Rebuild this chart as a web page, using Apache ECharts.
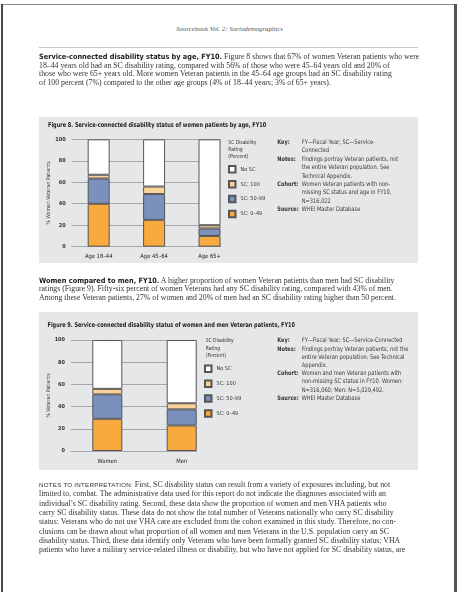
<!DOCTYPE html>
<html>
<head>
<meta charset="utf-8">
<script src="https://cdn.jsdelivr.net/npm/echarts@6/dist/echarts.min.js"></script>
<style>
  html, body { margin: 0; padding: 0; background: #ffffff; }
  #page { position: relative; width: 459px; height: 592px; overflow: hidden; background: #ffffff; }
  .abs { position: absolute; }
  #chart { position: absolute; left: 0; top: 0; width: 459px; height: 592px; z-index: 2; }
  .ln { position: absolute; left: 39px; white-space: nowrap; font-family: 'Liberation Serif', 'DejaVu Serif', serif;
        font-size: 7.8px; color: #333; line-height: 9px; height: 9px; z-index: 3; }
  .lead { font-family: 'Liberation Sans Narrow', 'DejaVu Sans Condensed', 'Liberation Sans', sans-serif; font-weight: bold; font-size: 7.3px; color: #222; }
  .caps { font-family: 'Liberation Sans', 'DejaVu Sans', sans-serif; font-size: 6.2px; letter-spacing: 0.25px; color: #333; }
</style>
</head>
<body>
<div id="page">
  <!-- page frame -->
  <div class="abs" style="left:1px;top:4px;width:456px;height:1.4px;background:#8a8a8a;"></div>
  <div class="abs" style="left:1px;top:4px;width:2px;height:600px;background:#4a4a4a;"></div>
  <div class="abs" style="left:454px;top:4px;width:2.6px;height:600px;background:#555;"></div>
  <!-- header -->
  <div class="abs" id="hdr" style="left:0;width:459px;top:24px;text-align:center;font-family:'Liberation Serif',serif;font-style:italic;font-size:6.8px;color:#555;line-height:9px;"></div>
  <div class="abs" style="left:39px;top:47px;width:379px;height:1.2px;background:#c8c8c8;"></div>
  <!-- figure panels -->
  <div class="abs" style="left:39px;top:117px;width:379px;height:146px;background:#e6e7e8;"></div>
  <div class="abs" style="left:39px;top:312px;width:379px;height:158px;background:#e6e7e8;"></div>
  <div id="chart"></div>
  <div id="text"></div>
</div>
<script>
// ---------------- data ----------------
const ageCategories = ['Age 18–44', 'Age 45–64', 'Age 65+'];
const ageSC0to49  = [40, 25, 10];
const ageSC50to99 = [23.5, 24, 7];
const ageSC100    = [3.5, 7, 3];
const ageNoSC     = [33, 44, 80];

const genderCategories = ['Women', 'Men'];
const genderSC0to49  = [29, 23];
const genderSC50to99 = [22, 14.5];
const genderSC100    = [5, 5.5];
const genderNoSC     = [44, 57];

const yTickValues = [0, 20, 40, 60, 80, 100];
const legendNames = ['No SC', 'SC: 100', 'SC: 50–99', 'SC: 0–49'];

const headerText = 'Sourcebook Vol. 2: Sociodemographics';
const fig8Title = 'Figure 8. Service-connected disability status of women patients by age, FY10';
const fig9Title = 'Figure 9. Service-connected disability status of women and men Veteran patients, FY10';
const legendTitle = 'SC Disability\nRating\n(Percent)';

const fig8Key = [
  ['Key:', ['FY—Fiscal Year; SC—Service-', 'Connected']],
  ['Notes:', ['Findings portray Veteran patients, not', 'the entire Veteran population. See', 'Technical Appendix.']],
  ['Cohort:', ['Women Veteran patients with non-', 'missing SC status and age in FY10,', 'N=316,022']],
  ['Source:', ['WHEI Master Database']]
];
const fig9Key = [
  ['Key:', ['FY—Fiscal Year; SC—Service-Connected']],
  ['Notes:', ['Findings portray Veteran patients, not the', 'entire Veteran population. See Technical', 'Appendix.']],
  ['Cohort:', ['Women and men Veteran patients with', 'non-missing SC status in FY10. Women:', 'N=316,060; Men: N=5,029,492.']],
  ['Source:', ['WHEI Master Database']]
];

const para1 = [
  ['Service-connected disability status by age, FY10.', ' Figure 8 shows that 67% of women Veteran patients who were'],
  ['', '18–44 years old had an SC disability rating, compared with 56% of those who were 45–64 years old and 20% of'],
  ['', 'those who were 65+ years old. More women Veteran patients in the 45–64 age groups had an SC disability rating'],
  ['', 'of 100 percent (7%) compared to the other age groups (4% of 18–44 years; 3% of 65+ years).']
];
const para2 = [
  ['Women compared to men, FY10.', ' A higher proportion of women Veteran patients than men had SC disability'],
  ['', 'ratings (Figure 9). Fifty-six percent of women Veterans had any SC disability rating, compared with 43% of men.'],
  ['', 'Among these Veteran patients, 27% of women and 20% of men had an SC disability rating higher than 50 percent.']
];
const notes = [
  ['NOTES TO INTERPRETATION:', ' First, SC disability status can result from a variety of exposures including, but not'],
  ['', 'limited to, combat. The administrative data used for this report do not indicate the diagnoses associated with an'],
  ['', 'individual’s SC disability rating. Second, these data show the proportion of women and men VHA patients who'],
  ['', 'carry SC disability status. These data do not show the total number of Veterans nationally who carry SC disability'],
  ['', 'status: Veterans who do not use VHA care are excluded from the cohort examined in this study. Therefore, no con-'],
  ['', 'clusions can be drawn about what proportion of all women and men Veterans in the U.S. population carry an SC'],
  ['', 'disability status. Third, these data identify only Veterans who have been formally granted SC disability status; VHA'],
  ['', 'patients who have a military service-related illness or disability, but who have not applied for SC disability status, are']
];

// ---------------- HTML text ----------------
document.getElementById('hdr').textContent = headerText;
const textLayer = document.getElementById('text');
function addPara(lines, firstCenter, step, leadClass) {
  lines.forEach((pair, i) => {
    const d = document.createElement('div');
    d.className = 'ln';
    d.style.top = (firstCenter + i * step - 4.5) + 'px';
    if (pair[0]) {
      const s = document.createElement('span');
      s.className = leadClass;
      s.textContent = pair[0];
      d.appendChild(s);
    }
    d.appendChild(document.createTextNode(pair[1]));
    textLayer.appendChild(d);
  });
}
addPara(para1, 56.5, 8.5, 'lead');
addPara(para2, 280, 8.5, 'lead');
addPara(notes, 484.5, 9.3, 'caps');

// ---------------- chart ----------------
const NARROW = "'Liberation Sans Narrow', 'DejaVu Sans Condensed', 'Liberation Sans', sans-serif";
const C_ORANGE = '#f9aa3e', C_BLUE = '#7b90bd', C_PEACH = '#fcd39b', C_WHITE = '#ffffff';
const BAR_BORDER = '#555555';
const GRID_COLOR = '#a4a6a9';

function bars(name, values, color, idx, barWidth) {
  return {
    type: 'bar', name: name, stack: 'st' + idx,
    xAxisIndex: idx, yAxisIndex: idx, barWidth: barWidth,
    // value first so that it is the stacked dimension; category index second
    data: values.map((v, i) => [v, i]),
    encode: { x: 1, y: 0 },
    itemStyle: { color: color, borderColor: BAR_BORDER, borderWidth: 1 },
    emphasis: { disabled: true }
  };
}
function xAxisFor(idx, cats, min, max) {
  return {
    type: 'value', gridIndex: idx, min: min, max: max,
    splitLine: { show: false }, axisTick: { show: false },
    axisLine: { show: true, lineStyle: { color: GRID_COLOR, width: 1 } },
    axisLabel: {
      customValues: cats.map((c, i) => i),
      formatter: v => cats[Math.round(v)] || '',
      fontFamily: NARROW, fontSize: 5.8, color: '#222', margin: 7
    }
  };
}
function yAxisFor(idx, name, gap) {
  return {
    type: 'value', gridIndex: idx, min: yTickValues[0], max: yTickValues[yTickValues.length - 1], interval: 20,
    axisLine: { show: true, lineStyle: { color: GRID_COLOR, width: 1 } },
    axisTick: { show: true, length: 3, lineStyle: { color: GRID_COLOR } },
    splitLine: { show: true, lineStyle: { color: GRID_COLOR, width: 1 } },
    axisLabel: { fontFamily: NARROW, fontSize: 5.5, fontWeight: 'bold', color: '#333', margin: 6 },
    name: name, nameLocation: 'middle', nameRotate: 90, nameGap: gap,
    nameTextStyle: { fontFamily: NARROW, fontSize: 5.2, color: '#333' }
  };
}
function legendFor(left, top) {
  return {
    orient: 'vertical', left: left, top: top, icon: 'rect', padding: 0,
    itemWidth: 6.5, itemHeight: 6.5, itemGap: 6.4, selectedMode: false,
    data: legendNames,
    textStyle: { fontFamily: NARROW, fontSize: 5.5, color: '#333', lineHeight: 6.5 }
  };
}
function textEl(x, y, text, size, weight, lh, color, sx) {
  return {
    type: 'text', x: x, y: y, scaleX: sx || 1, silent: true,
    style: { text: text, fontFamily: NARROW, fontSize: size, fontWeight: weight || 'normal',
             fill: color || '#333', lineHeight: lh || size * 1.2, verticalAlign: 'top', align: 'left' }
  };
}
function keyEls(entries, labelX, valueX, firstCenter, lh) {
  const out = [];
  let line = 0;
  entries.forEach(e => {
    const top = firstCenter + line * lh - lh / 2;
    out.push(textEl(labelX, top, e[0], 6.2, 'bold', lh, '#333', 0.9));
    out.push(textEl(valueX, top, e[1].join('\n'), 6.3, 'normal', lh, '#3a3a3a', 0.9));
    line += e[1].length;
  });
  return out;
}

const chart = echarts.init(document.getElementById('chart'), null, { renderer: 'canvas' });
chart.setOption({
  animation: false,
  backgroundColor: 'transparent',
  grid: [
    { left: 71.7, top: 139.3, width: 149, height: 107.4 },
    { left: 71, top: 340, width: 125.7, height: 111 }
  ],
  xAxis: [
    xAxisFor(0, ageCategories, -0.487, 2.202),
    xAxisFor(1, genderCategories, -0.488, 1.2016)
  ],
  yAxis: [
    yAxisFor(0, '% Women Veteran Patients', 17.5),
    yAxisFor(1, '% Veteran Patients', 17)
  ],
  legend: [legendFor(228, 165), legendFor(204, 364.5)],
  series: [
    bars('SC: 0–49', ageSC0to49, C_ORANGE, 0, 22),
    bars('SC: 50–99', ageSC50to99, C_BLUE, 0, 22),
    bars('SC: 100', ageSC100, C_PEACH, 0, 22),
    bars('No SC', ageNoSC, C_WHITE, 0, 22),
    bars('SC: 0–49', genderSC0to49, C_ORANGE, 1, 30),
    bars('SC: 50–99', genderSC50to99, C_BLUE, 1, 30),
    bars('SC: 100', genderSC100, C_PEACH, 1, 30),
    bars('No SC', genderNoSC, C_WHITE, 1, 30)
  ],
  graphic: [].concat(
    [textEl(48, 121.5, fig8Title, 6.6, 'bold', 7, '#222', 0.84),
     textEl(47.5, 322, fig9Title, 6.6, 'bold', 7, '#222', 0.84),
     textEl(228.3, 138.8, legendTitle, 5.5, 'normal', 7, '#333', 0.9),
     textEl(205.7, 337.2, legendTitle, 5.5, 'normal', 7.5, '#333', 0.9)],
    keyEls(fig8Key, 277.3, 301.7, 142.3, 8.4),
    keyEls(fig9Key, 277.3, 301.7, 340.7, 8.2)
  )
});
</script>
</body>
</html>
